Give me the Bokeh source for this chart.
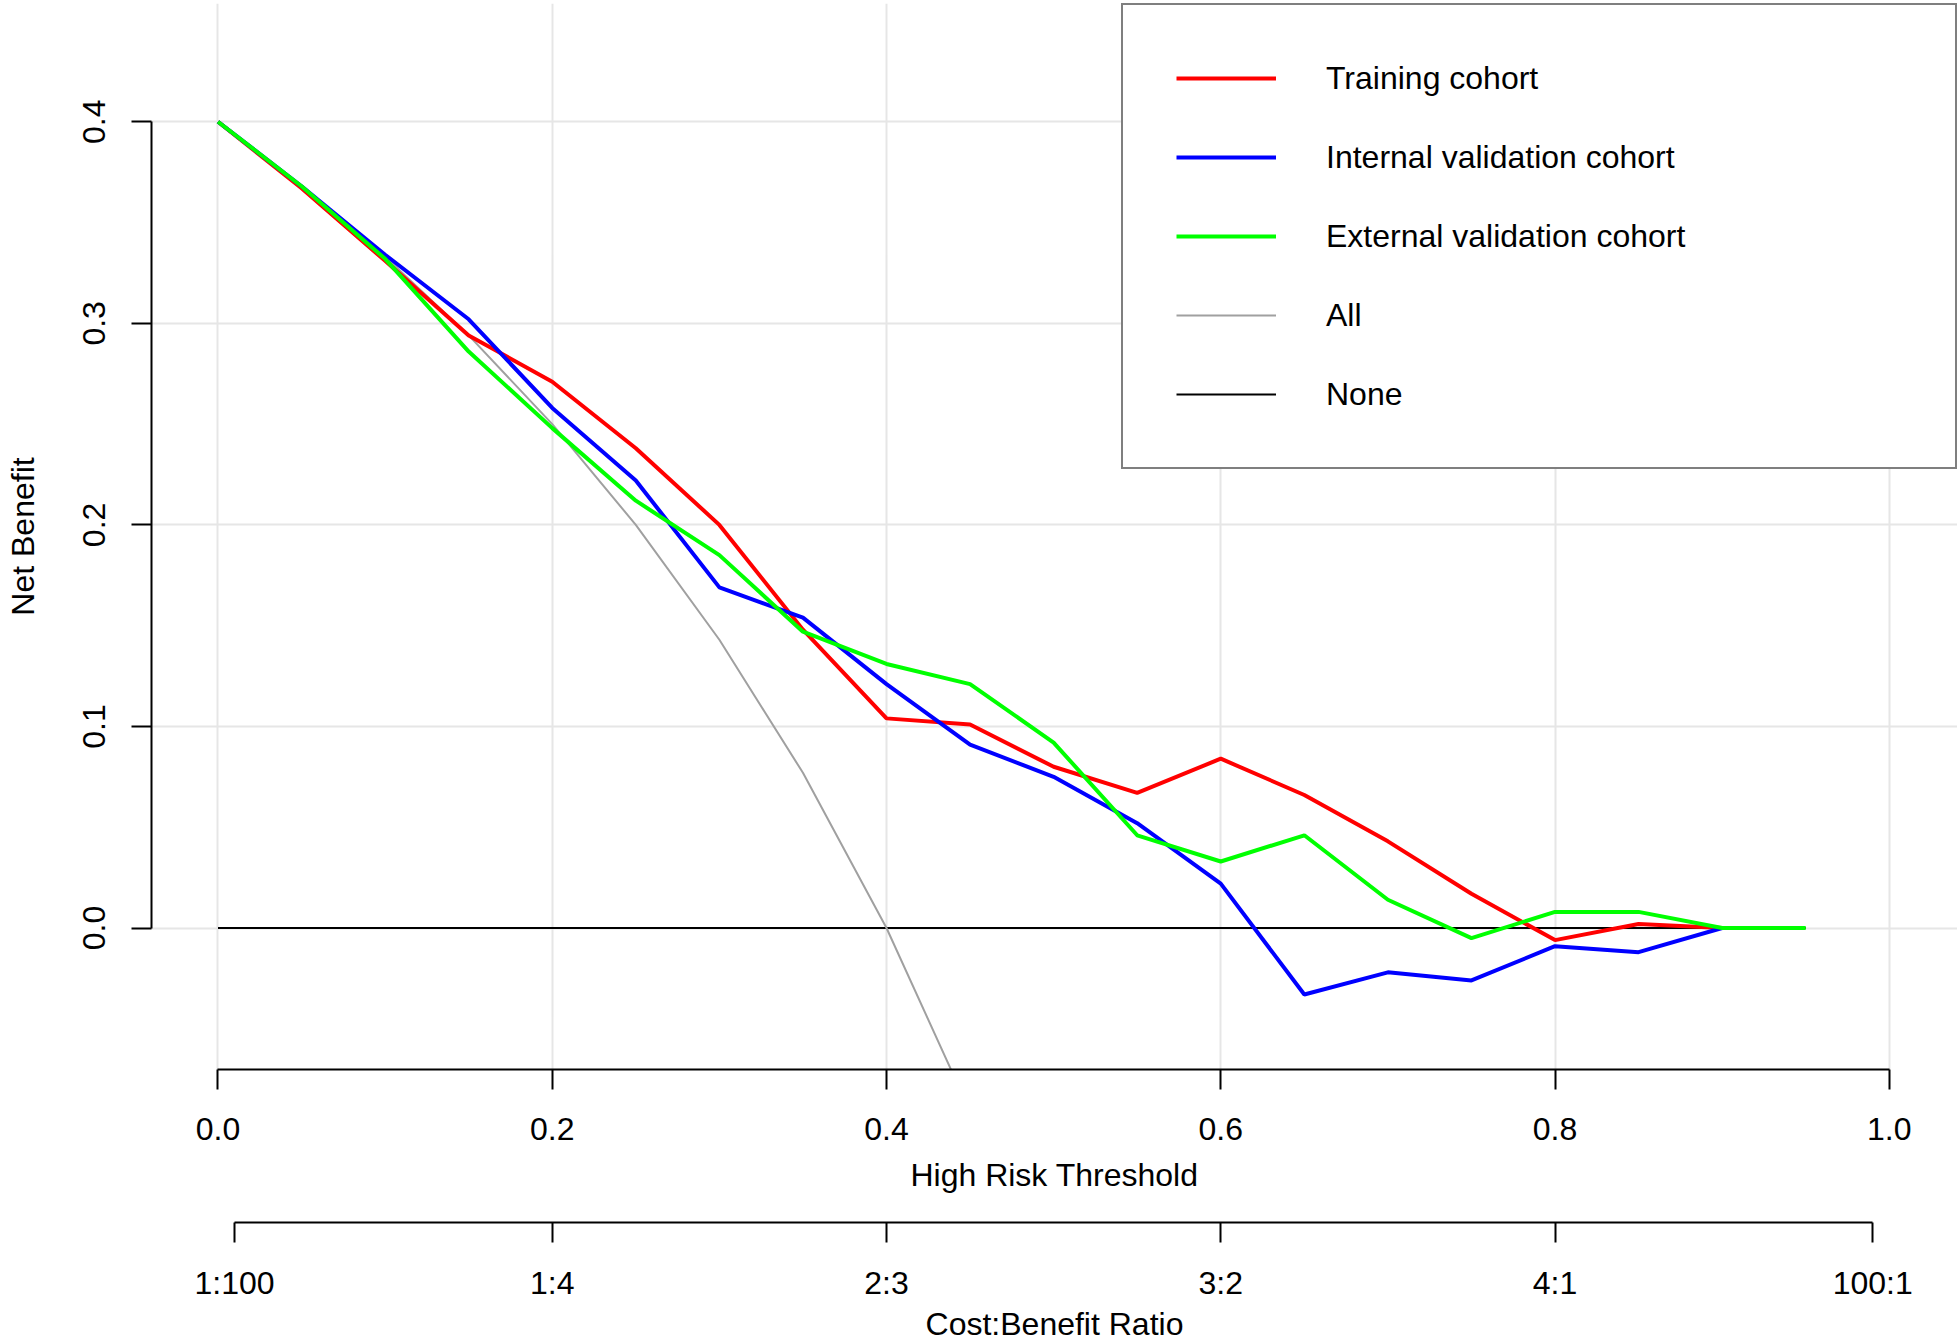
from bokeh.plotting import figure
from bokeh.models import Range1d, LinearAxis, FixedTicker, Legend, LegendItem, PrintfTickFormatter
from bokeh.embed import file_html
from bokeh.resources import INLINE

FONT = "Liberation Sans"
FS = "32px"

# ---- data ----
thresholds = [0.00, 0.05, 0.10, 0.15, 0.20, 0.25, 0.30, 0.35, 0.40, 0.45,
              0.50, 0.55, 0.60, 0.65, 0.70, 0.75, 0.80, 0.85, 0.90, 0.95]

training = [0.400, 0.367, 0.331, 0.294, 0.271, 0.238, 0.200, 0.148, 0.104, 0.101,
            0.080, 0.067, 0.084, 0.066, 0.043, 0.017, -0.006, 0.002, 0.000]
internal = [0.400, 0.368, 0.334, 0.302, 0.258, 0.222, 0.169, 0.154, 0.121, 0.091,
            0.075, 0.052, 0.022, -0.033, -0.022, -0.026, -0.009, -0.012, 0.000]
external = [0.400, 0.368, 0.332, 0.286, 0.248, 0.212, 0.185, 0.147, 0.131, 0.121,
            0.092, 0.046, 0.033, 0.046, 0.014, -0.005, 0.008, 0.008, 0.000, 0.000]
treat_all = [0.400, 0.368, 0.333, 0.294, 0.250, 0.200, 0.143, 0.077, 0.000, -0.091]
treat_none = [0.0, 0.0]

x_ticks = [0.0, 0.2, 0.4, 0.6, 0.8, 1.0]
y_ticks = [0.0, 0.1, 0.2, 0.3, 0.4]
cb_ticks = [0.0099, 0.2, 0.4, 0.6, 0.8, 0.9901]
cb_labels = ["1:100", "1:4", "2:3", "3:2", "4:1", "100:1"]

series_names = ["Training cohort", "Internal validation cohort", "External validation cohort", "All", "None"]

# ---- figure ----
p = figure(frame_width=1806, frame_height=1066,
           x_range=Range1d(-0.03979, 1.04083), y_range=Range1d(-0.07020, 0.45867),
           output_backend="svg", toolbar_location=None,
           min_border_left=151, min_border_right=0, min_border_top=3, min_border_bottom=0,
           background_fill_color="white", border_fill_color="white")
p.outline_line_color = None

for g, t in ((p.xgrid[0], x_ticks), (p.ygrid[0], y_ticks)):
    g.ticker = FixedTicker(ticks=t)
    g.grid_line_color = "#E6E6E6"
    g.grid_line_width = 2


def style_axis(ax):
    ax.axis_line_color = "black"
    ax.axis_line_width = 2
    ax.major_tick_line_color = "black"
    ax.major_tick_line_width = 2
    ax.major_tick_out = 20
    ax.major_tick_in = 0
    ax.minor_tick_line_color = None
    ax.minor_tick_out = 0
    ax.minor_tick_in = 0
    ax.major_label_text_font = FONT
    ax.major_label_text_font_size = FS
    ax.major_label_text_color = "black"
    ax.axis_label_text_font = FONT
    ax.axis_label_text_font_size = FS
    ax.axis_label_text_font_style = "normal"
    ax.axis_label_text_color = "black"


xa = p.xaxis[0]
style_axis(xa)
xa.ticker = FixedTicker(ticks=x_ticks)
xa.formatter = PrintfTickFormatter(format="%.1f")
xa.bounds = (x_ticks[0], x_ticks[-1])
xa.major_label_standoff = 28
xa.axis_label = "High Risk Threshold"
xa.axis_label_standoff = 14

ya = p.yaxis[0]
style_axis(ya)
ya.ticker = FixedTicker(ticks=y_ticks)
ya.formatter = PrintfTickFormatter(format="%.1f")
ya.bounds = (y_ticks[0], y_ticks[-1])
ya.major_label_orientation = "vertical"
ya.major_label_standoff = 26
ya.axis_label = "Net Benefit"
ya.axis_label_standoff = 40

# spacer between the two bottom axes (one white tick, no line, no label: only takes room)
spacer = LinearAxis(ticker=FixedTicker(ticks=[0.5]), axis_line_color=None,
                    major_tick_line_color="white", major_tick_line_width=1,
                    minor_tick_line_color=None,
                    major_tick_out=27, major_tick_in=0, minor_tick_out=0, minor_tick_in=0,
                    major_label_standoff=0, major_label_text_color=None)
p.add_layout(spacer, "below")

cb = LinearAxis(ticker=FixedTicker(ticks=cb_ticks),
                major_label_overrides={t: l for t, l in zip(cb_ticks, cb_labels)})
style_axis(cb)
cb.bounds = (cb_ticks[0], cb_ticks[-1])
cb.major_label_standoff = 22
cb.axis_label = "Cost:Benefit Ratio"
cb.axis_label_standoff = 2
p.add_layout(cb, "below")

# ---- lines ----
r_none = p.line([thresholds[0], thresholds[-1]], treat_none, line_color="black", line_width=2)
r_all = p.line(thresholds[:len(treat_all)], treat_all, line_color="#A0A0A0", line_width=2)
r_tr = p.line(thresholds[:len(training)], training, line_color="#FF0000", line_width=4)
r_in = p.line(thresholds[:len(internal)], internal, line_color="#0000FF", line_width=4)
r_ex = p.line(thresholds[:len(external)], external, line_color="#00FF00", line_width=4)

legend = Legend(items=[LegendItem(label=n, renderers=[r]) for n, r in
                       zip(series_names, [r_tr, r_in, r_ex, r_all, r_none])],
                location="top_right", margin=0, padding=53, spacing=39,
                glyph_width=100, glyph_height=40, label_height=40, label_width=576,
                label_standoff=50, label_text_font=FONT, label_text_font_size=FS,
                label_text_color="black", border_line_color="black", border_line_width=2,
                background_fill_color="white", background_fill_alpha=1.0)
p.add_layout(legend)

open("out.html", "w").write(file_html(p, INLINE))
